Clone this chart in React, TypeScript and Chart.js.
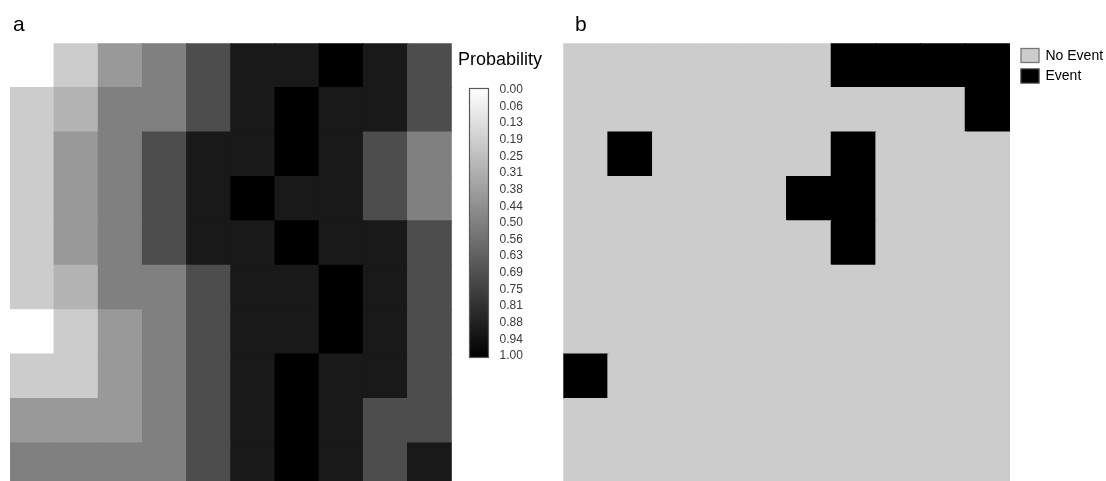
import React, { useEffect, useRef } from "react";
import { Chart, registerables } from "chart.js";

Chart.register(...registerables);

// ---------- DATA ----------
const columns = ["1", "2", "3", "4", "5", "6", "7", "8", "9", "10"];

// Panel a: probability per cell, rows listed top to bottom
const probRow1 = [0.0, 0.2, 0.4, 0.5, 0.7, 0.9, 0.9, 1.0, 0.9, 0.7];
const probRow2 = [0.2, 0.3, 0.5, 0.5, 0.7, 0.9, 1.0, 0.9, 0.9, 0.7];
const probRow3 = [0.2, 0.4, 0.5, 0.7, 0.9, 0.9, 1.0, 0.9, 0.7, 0.5];
const probRow4 = [0.2, 0.4, 0.5, 0.7, 0.9, 1.0, 0.9, 0.9, 0.7, 0.5];
const probRow5 = [0.2, 0.4, 0.5, 0.7, 0.9, 0.9, 1.0, 0.9, 0.9, 0.7];
const probRow6 = [0.2, 0.3, 0.5, 0.5, 0.7, 0.9, 0.9, 1.0, 0.9, 0.7];
const probRow7 = [0.0, 0.2, 0.4, 0.5, 0.7, 0.9, 0.9, 1.0, 0.9, 0.7];
const probRow8 = [0.2, 0.2, 0.4, 0.5, 0.7, 0.9, 1.0, 0.9, 0.9, 0.7];
const probRow9 = [0.4, 0.4, 0.4, 0.5, 0.7, 0.9, 1.0, 0.9, 0.7, 0.7];
const probRow10 = [0.5, 0.5, 0.5, 0.5, 0.7, 0.9, 1.0, 0.9, 0.7, 0.9];
const probRows = [probRow1, probRow2, probRow3, probRow4, probRow5, probRow6, probRow7, probRow8, probRow9, probRow10];

// Panel b: event (1) / no event (0), rows listed top to bottom
const eventRow1 = [0, 0, 0, 0, 0, 0, 1, 1, 1, 1];
const eventRow2 = [0, 0, 0, 0, 0, 0, 0, 0, 0, 1];
const eventRow3 = [0, 1, 0, 0, 0, 0, 1, 0, 0, 0];
const eventRow4 = [0, 0, 0, 0, 0, 1, 1, 0, 0, 0];
const eventRow5 = [0, 0, 0, 0, 0, 0, 1, 0, 0, 0];
const eventRow6 = [0, 0, 0, 0, 0, 0, 0, 0, 0, 0];
const eventRow7 = [0, 0, 0, 0, 0, 0, 0, 0, 0, 0];
const eventRow8 = [1, 0, 0, 0, 0, 0, 0, 0, 0, 0];
const eventRow9 = [0, 0, 0, 0, 0, 0, 0, 0, 0, 0];
const eventRow10 = [0, 0, 0, 0, 0, 0, 0, 0, 0, 0];
const eventRows = [eventRow1, eventRow2, eventRow3, eventRow4, eventRow5, eventRow6, eventRow7, eventRow8, eventRow9, eventRow10];

const colorbarTicks = [
  "0.00", "0.06", "0.13", "0.19", "0.25", "0.31", "0.38", "0.44", "0.50",
  "0.56", "0.63", "0.69", "0.75", "0.81", "0.88", "0.94", "1.00",
];
const eventLegend = ["No Event", "Event"];

// ---------- STYLE ----------
const FONT = '"Liberation Sans", Arial, Helvetica, sans-serif';
const NO_EVENT_COLOR = "#cccccc";
const EVENT_COLOR = "#000000";

function grayFor(p: number): string {
  const g = Math.round(255 * (1 - p));
  return `rgb(${g},${g},${g})`;
}

// stacked-bar datasets: first dataset = bottom row
function buildProbDatasets() {
  const n = probRows.length;
  const ds: any[] = [];
  for (let k = n - 1; k >= 0; k--) {
    const row = probRows[k];
    ds.push({
      label: `row ${k + 1}`,
      data: row.map(() => 1),
      backgroundColor: row.map(grayFor),
      borderWidth: 0,
      inflateAmount: 0.6,
      categoryPercentage: 1,
      barPercentage: 1,
    });
  }
  return ds;
}

function buildEventDatasets() {
  const n = eventRows.length;
  const ds: any[] = [];
  for (let k = n - 1; k >= 0; k--) {
    const row = eventRows[k];
    ds.push({
      label: `row ${k + 1}`,
      data: row.map(() => 1),
      backgroundColor: row.map((e) => (e ? EVENT_COLOR : NO_EVENT_COLOR)),
      borderWidth: 0,
      inflateAmount: 0.6,
      categoryPercentage: 1,
      barPercentage: 1,
    });
  }
  return ds;
}

const Y_MIN = 0.144;

function gridOptions(padding: any) {
  return {
    animation: false,
    responsive: false,
    maintainAspectRatio: false,
    events: [],
    layout: { padding },
    plugins: {
      legend: { display: false },
      tooltip: { enabled: false },
      title: { display: false },
    },
    scales: {
      x: { type: "category", stacked: true, display: false, offset: true },
      y: { type: "linear", stacked: true, display: false, min: Y_MIN, max: columns.length },
    },
  } as any;
}

const colorbarPlugin = {
  id: "colorbarPlugin",
  afterDraw(chart: any) {
    const ctx = chart.ctx as CanvasRenderingContext2D;
    ctx.save();
    ctx.fillStyle = "#000";
    ctx.textAlign = "left";
    ctx.textBaseline = "alphabetic";
    ctx.font = `21px ${FONT}`;
    ctx.fillText("a", 13, 30.5);

    ctx.font = `18px ${FONT}`;
    ctx.textBaseline = "middle";
    ctx.fillText("Probability", 458, 60);

    const x0 = 469.5, y0 = 88.5, w = 19, h = 269;
    const grad = ctx.createLinearGradient(0, y0, 0, y0 + h);
    grad.addColorStop(0, "#ffffff");
    grad.addColorStop(1, "#000000");
    ctx.fillStyle = grad;
    ctx.fillRect(x0, y0, w, h);
    ctx.strokeStyle = "#5a5a5a";
    ctx.lineWidth = 1.2;
    ctx.strokeRect(x0, y0, w, h);

    ctx.font = `12px ${FONT}`;
    ctx.fillStyle = "#3a3a3a";
    const top = 89.8, bottom = 356;
    const step = (bottom - top) / (colorbarTicks.length - 1);
    colorbarTicks.forEach((t, i) => {
      ctx.fillText(t, 499.5, top + i * step);
    });
    ctx.restore();
  },
};

const OFFSET_B = 553;
const eventLegendPlugin = {
  id: "eventLegendPlugin",
  afterDraw(chart: any) {
    const ctx = chart.ctx as CanvasRenderingContext2D;
    ctx.save();
    ctx.fillStyle = "#000";
    ctx.textAlign = "left";
    ctx.textBaseline = "alphabetic";
    ctx.font = `21px ${FONT}`;
    ctx.fillText("b", 575 - OFFSET_B, 30.5);

    const bx = 1021 - OFFSET_B;
    const boxes = [
      { y: 48.5, fill: NO_EVENT_COLOR, stroke: "#777777" },
      { y: 69, fill: EVENT_COLOR, stroke: "#333333" },
    ];
    ctx.font = `14px ${FONT}`;
    ctx.textBaseline = "middle";
    eventLegend.forEach((label, i) => {
      const b = boxes[i];
      ctx.fillStyle = b.fill;
      ctx.fillRect(bx, b.y, 18, 14);
      ctx.strokeStyle = b.stroke;
      ctx.lineWidth = 1.3;
      ctx.strokeRect(bx, b.y, 18, 14);
      ctx.fillStyle = "#000";
      ctx.fillText(label, 1045.5 - OFFSET_B, b.y + 7.5);
    });
    ctx.restore();
  },
};

export default function App() {
  const refA = useRef<HTMLCanvasElement | null>(null);
  const refB = useRef<HTMLCanvasElement | null>(null);

  useEffect(() => {
    const chartA = new Chart(refA.current as HTMLCanvasElement, {
      type: "bar",
      data: { labels: columns, datasets: buildProbDatasets() },
      options: gridOptions({ left: 10, right: 553 - 451.8, top: 43.3, bottom: 0 }),
      plugins: [colorbarPlugin],
    } as any);
    const chartB = new Chart(refB.current as HTMLCanvasElement, {
      type: "bar",
      data: { labels: columns, datasets: buildEventDatasets() },
      options: gridOptions({ left: 563.3 - OFFSET_B, right: 553 - (1010 - OFFSET_B), top: 43.3, bottom: 0 }),
      plugins: [eventLegendPlugin],
    } as any);
    return () => {
      chartA.destroy();
      chartB.destroy();
    };
  }, []);

  return (
    <div style={{ position: "absolute", left: 0, top: 0, width: 1106, height: 481, overflow: "hidden", background: "#fff" }}>
      <canvas ref={refA} width={553} height={481} style={{ position: "absolute", left: 0, top: 0, width: 553, height: 481 }} />
      <canvas ref={refB} width={553} height={481} style={{ position: "absolute", left: OFFSET_B, top: 0, width: 553, height: 481 }} />
    </div>
  );
}
